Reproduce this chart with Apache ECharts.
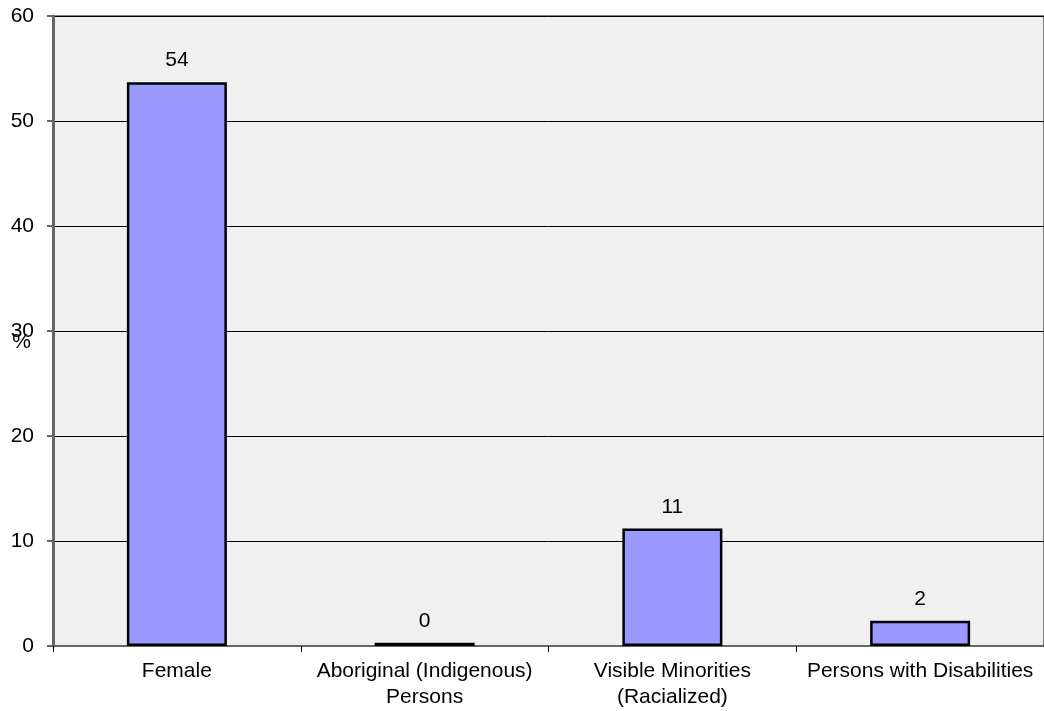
<!DOCTYPE html>
<html>
<head>
<meta charset="utf-8">
<script src="https://cdn.jsdelivr.net/npm/echarts@6/dist/echarts.min.js"></script>
<style>
html,body{margin:0;padding:0;background:#fff;}
#chart{width:1044px;height:711px;}
</style>
</head>
<body>
<div id="chart"></div>
<script>
const categories = ['Female', 'Aboriginal (Indigenous)\nPersons', 'Visible Minorities\n(Racialized)', 'Persons with Disabilities'];
const values = [53.7, 0.3, 11.2, 2.4];
const yTicks = { min: 0, max: 60, interval: 10 };

const chart = echarts.init(document.getElementById('chart'));
chart.setOption({
  animation: false,
  backgroundColor: '#ffffff',
  textStyle: { fontFamily: 'Liberation Sans, Arial, sans-serif' },
  grid: {
    left: 53, top: 16, right: 0, bottom: 65,
    outerBoundsMode: 'none',
    containLabel: false,
    show: true, backgroundColor: '#f0f0f0', borderColor: '#808080', borderWidth: 2
  },
  xAxis: {
    type: 'category',
    data: categories,
    axisLine: { lineStyle: { color: '#666666', width: 2 } },
    axisTick: { show: true, alignWithLabel: false, length: 6, lineStyle: { color: '#000' } },
    axisLabel: { color: '#000', fontSize: 21, margin: 12, lineHeight: 26, interval: 0 },
    splitLine: { show: false }
  },
  yAxis: {
    type: 'value',
    min: yTicks.min, max: yTicks.max, interval: yTicks.interval,
    name: '%',
    nameLocation: 'middle',
    nameRotate: 0,
    nameGap: 22,
    nameMoveOverlap: false,
    nameTextStyle: { color: '#000', fontSize: 21, verticalAlign: 'top', lineHeight: 22 },
    axisLine: { show: true, lineStyle: { color: '#666666', width: 3 } },
    axisTick: { show: true, length: 6, lineStyle: { color: '#666666', width: 2 } },
    axisLabel: { color: '#000', fontSize: 21, margin: 19 },
    splitLine: { show: true, lineStyle: { color: '#000', width: 1 } }
  },
  series: [{
    type: 'bar',
    data: values,
    barWidth: 100,
    itemStyle: { color: '#9999ff', borderColor: '#000', borderWidth: 2.5 },
    label: {
      show: true, position: 'top', distance: 11, color: '#000', fontSize: 21,
      formatter: p => Math.round(p.value)
    }
  }]
});
</script>
</body>
</html>
